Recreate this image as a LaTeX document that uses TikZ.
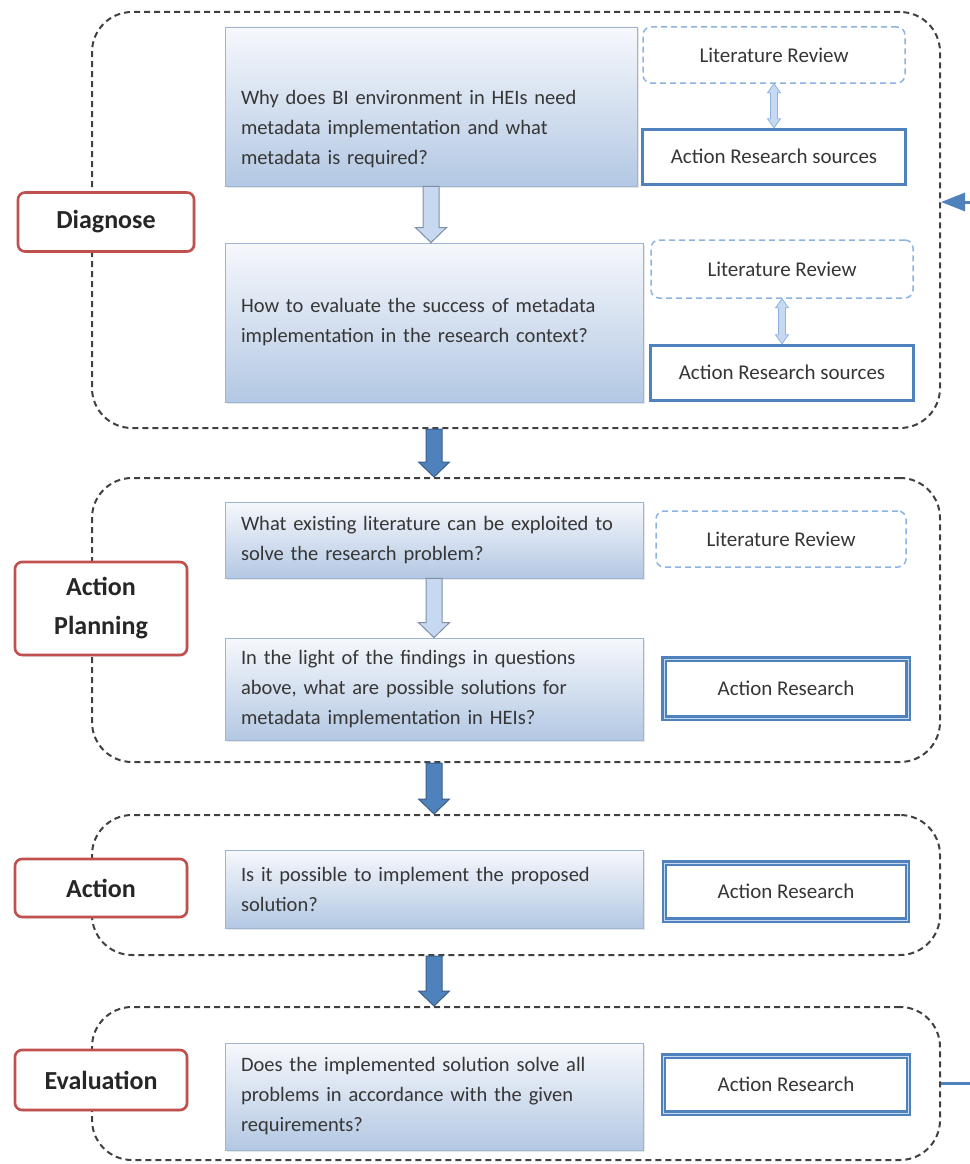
\documentclass[tikz,border=0pt]{standalone}
\usepackage{fontspec}
\setmainfont{Carlito}
\usetikzlibrary{positioning}
\usetikzlibrary{calc, arrows.meta, shadows}
\definecolor{colQTop}{HTML}{F6F8FC}
\definecolor{colQBot}{HTML}{B3C8E3}
\definecolor{strokeQ}{HTML}{9CB5D3}
\definecolor{strokeStage}{HTML}{C0504D}
\definecolor{strokePhase}{HTML}{404040}
\definecolor{strokeLit}{HTML}{8DB3E2}
\definecolor{strokeSrc}{HTML}{4F81BD}
\definecolor{colSrcInner}{HTML}{C6D9F1}
\definecolor{colArrow}{HTML}{4F81BD}
\definecolor{strokeArrow}{HTML}{385D8A}
\definecolor{colHollow}{HTML}{C6D9F1}
\definecolor{strokeHollow}{HTML}{7F8FA6}
\definecolor{colText}{HTML}{363636}

\begin{document}
\begin{tikzpicture}[
				x=1pt, y=-1pt,
				qfont/.style={font=\fontsize{20.5}{30}\selectfont},
				sfont/.style={font=\fontsize{21}{26}\selectfont},
				% Node Styles
				phase/.style={draw=strokePhase, line width=2pt, dash pattern=on 6pt off 4pt, rounded corners=40pt, minimum width=848pt},
				stage/.style={draw=strokeStage, line width=2.6pt, fill=white, rounded corners=7pt, minimum width=172pt, align=center, font=\fontsize{26}{39}\selectfont\bfseries, text=black!85, drop shadow={opacity=0.2, shadow xshift=1.5pt, shadow yshift=-1.5pt}},
				question/.style={draw=strokeQ, line width=0.8pt, top color=colQTop, bottom color=colQBot, minimum width=418pt, text width=386pt, inner xsep=16pt, align=left, qfont, text=colText, drop shadow={opacity=0.2, shadow xshift=1.5pt, shadow yshift=-1.5pt}},
				litreview/.style={draw=strokeLit, line width=1.5pt, dash pattern=on 6pt off 4pt, rounded corners=8pt, fill=white, sfont, text=colText},
				sources/.style={draw=strokeSrc, line width=3pt, fill=white, sfont, text=colText},
				actres/.style={draw=strokeSrc, double=colSrcInner, double distance=1pt, line width=2.2pt, fill=white, sfont, text=colText},
				% Block arrows
				bigarrow/.style={to path={let \p1=(\tikztostart), \p2=(\tikztotarget) in
						(\x1-8pt,\y1) -- (\x1-8pt,\y2+15pt) -- (\x1-15.5pt,\y2+15pt) -- (\x1,\y2)
						-- (\x1+15.5pt,\y2+15pt) -- (\x1+8pt,\y2+15pt) -- (\x1+8pt,\y1) -- cycle}},
				hollow/.style={bigarrow, fill=colHollow, draw=strokeHollow, line width=1pt},
				phasearrow/.style={bigarrow, fill=colArrow, draw=strokeArrow, line width=1pt},
				twoway/.style={fill=colHollow, draw=strokeLit, line width=0.8pt, to path={let \p1=(\tikztostart), \p2=(\tikztotarget) in
						(\x1,\y1) -- (\x1+6.5pt,\y1-9pt) -- (\x1+3.5pt,\y1-9pt) -- (\x1+3.5pt,\y2+9pt) -- (\x1+6.5pt,\y2+9pt) -- (\x1,\y2)
						-- (\x1-6.5pt,\y2+9pt) -- (\x1-3.5pt,\y2+9pt) -- (\x1-3.5pt,\y1-9pt) -- (\x1-6.5pt,\y1-9pt) -- cycle}},
				loopback/.style={draw=colArrow, line width=3pt, -{Triangle[length=24pt, width=18pt]}}
				]
				\useasboundingbox (0,0) rectangle (969,1164);
				
				%% ================= PHASE FRAMES =================
				\node[phase, minimum height=416pt] (diagphase) at (516,220) {};
				\node[phase, minimum height=284pt] (planphase) at (516,620) {};
				\node[phase, minimum height=140pt] (actphase) at (516,885) {};
				\node[phase, minimum height=153pt] (evalphase) at (516,1083.5) {};
				
				%% ================= STAGE LABELS =================
				\node[stage, minimum width=176pt, minimum height=59pt] (diagnose) at (106,222) {Diagnose};
				\node[stage, minimum height=93pt] (planning) at (101,608.5) {Action\\Planning};
				\node[stage, minimum height=58pt] (action) at (101,888) {Action};
				\node[stage, minimum height=60pt] (evaluation) at (101,1080) {Evaluation};
				
				%% ================= QUESTIONS =================
				\node[question, minimum width=412pt, text width=380pt, minimum height=159pt] (q1) at (431,106.5) {\rule{0pt}{60pt}Why does BI environment in HEIs need\\metadata implementation and what\\metadata is required?};
				\node[question, minimum height=159pt] (q2) at (434,322.5) {How to evaluate the success of metadata\\implementation in the research context?};
				\node[question, minimum height=76pt] (q3) at (434,540) {What existing literature can be exploited to\\solve the research problem?};
				\node[question, minimum height=102pt] (q4) at (434,689) {In the light of the findings in questions\\above, what are possible solutions for\\metadata implementation in HEIs?};
				\node[question, minimum height=78pt] (q5) at (434,889) {Is it possible to implement the proposed\\solution?};
				\node[question, minimum height=107pt] (q6) at (434,1096.5) {Does the implemented solution solve all\\problems in accordance with the given\\requirements?};
				
				%% ================= SOURCES =================
				\node[litreview, minimum width=262pt, minimum height=56pt] (lit1) at (774,55) {Literature Review};
				\node[sources, minimum width=263pt, minimum height=55pt, below=44pt of lit1] (src1) {Action Research sources};
				\node[litreview, minimum width=262pt, minimum height=58pt] (lit2) at (782,269) {Literature Review};
				\node[sources, minimum width=263pt, minimum height=55pt, below=45pt of lit2] (src2) {Action Research sources};
				\node[litreview, minimum width=250pt, minimum height=56pt] (lit3) at (781,539) {Literature Review};
				\node[actres, minimum width=244pt, minimum height=59pt] (ar1) at (786,688.5) {Action Research};
				\node[actres, minimum width=243pt, minimum height=57pt] (ar2) at (786,891.5) {Action Research};
				\node[actres, minimum width=245pt, minimum height=57pt] (ar3) at (786,1084.5) {Action Research};
				
				%% ================= ARROWS =================
				\draw[hollow] (q1.south) to (q2.north);
				\draw[hollow] (q3.south) to (q4.north);
				\draw[twoway] (lit1.south) to (src1.north);
				\draw[twoway] (lit2.south) to (src2.north);
				
				\draw[phasearrow] (q2.south |- diagphase.south) to (q2.south |- planphase.north);
				\draw[phasearrow] (q4.south |- planphase.south) to (q4.south |- actphase.north);
				\draw[phasearrow] (q5.south |- actphase.south) to (q5.south |- evalphase.north);
				
				% Loop Back (Right Side)
				\coordinate (diagin) at ($(diagphase.east)+(0,-18)$);
				\coordinate (loopturn) at ($(diagin)+(50,0)$);
				\draw[loopback] (evalphase.east) -| (loopturn) -- (diagin);
				
			\end{tikzpicture}
\end{document}
